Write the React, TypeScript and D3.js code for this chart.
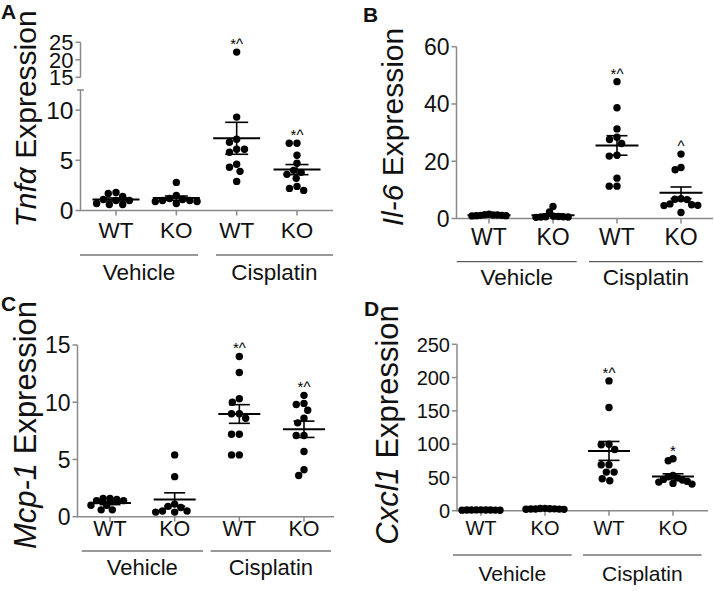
import React from "react";
import * as d3 from "d3";

// ---------- data ----------
const conditions = ["WT", "KO", "WT", "KO"];
const treatments = ["Vehicle", "Cisplatin"];

const tnfaVehicleWT = [1.4, 1.8, 1.7, 1.0, 0.7, 0.6, 0.6, 1.0, 1.1];
const tnfaVehicleKO = [1.2, 1.0, 0.9, 0.7, 0.9, 1.0, 1.5, 2.8, 1.1];
const tnfaCisplatinWT = [22.2, 9.3, 7.1, 6.8, 6.1, 5.8, 6.1, 4.6, 4.3, 3.9, 2.9];
const tnfaCisplatinKO = [6.7, 6.7, 5.5, 4.7, 4.0, 3.6, 3.2, 3.8, 2.4, 2.0, 2.2];
const tnfaMarks = ["", "", "*^", "*^"];
const tnfaTicksLow = [0, 5, 10];
const tnfaTicksHigh = [15, 20, 25];

const il6VehicleWT = [1.5, 1.2, 1.0, 1.1, 0.9, 1.0, 1.1, 1.2, 1.3];
const il6VehicleKO = [0.5, 0.6, 0.4, 4.2, 2.3, 0.5, 0.6, 0.7, 0.8];
const il6CisplatinWT = [47.8, 38.7, 31.3, 28.4, 27.6, 26.2, 22.1, 21.8, 14.1, 11.3, 11.3];
const il6CisplatinKO = [22.5, 17.0, 17.8, 6.7, 6.6, 6.9, 5.1, 4.6, 4.5, 4.8, 2.1];
const il6Marks = ["", "", "*^", "^"];
const il6Ticks = [0, 20, 40, 60];

const mcp1VehicleWT = [1.6, 1.4, 1.6, 1.5, 1.0, 1.4, 1.0, 0.6, 0.6];
const mcp1VehicleKO = [5.4, 3.5, 1.1, 0.9, 0.5, 0.4, 0.4, 0.5, 0.8];
const mcp1CisplatinWT = [14.0, 12.6, 10.3, 10.0, 9.0, 9.0, 8.6, 7.2, 7.2, 5.4, 5.4];
const mcp1CisplatinKO = [10.6, 9.9, 9.8, 9.3, 8.6, 8.2, 7.1, 7.1, 5.7, 4.1, 3.6];
const mcp1Marks = ["", "", "*^", "*^"];
const mcp1Ticks = [0, 5, 10, 15];

const cxcl1VehicleWT = [0.8, 1.2, 1.0, 0.9, 1.1, 1.0, 0.7, 1.3, 1.0];
const cxcl1VehicleKO = [2.5, 3.0, 2.0, 2.8, 2.2, 3.2, 2.6, 2.4, 3.5];
const cxcl1CisplatinWT = [195, 155, 100, 99, 92, 69, 69, 58, 58, 45, 48];
const cxcl1CisplatinKO = [78, 75, 53, 51, 49, 47, 46, 44, 43, 41, 40];
const cxcl1Marks = ["", "", "*^", "*"];
const cxcl1Ticks = [0, 50, 100, 150, 200, 250];

// ---------- style ----------
const FONT = "'Liberation Sans', Arial, Helvetica, sans-serif";
const AXIS = "#8a8a8a";
const INK = "#111";

type Seg = { domain: [number, number]; range: [number, number]; ticks: number[]; fontSize: number };

type PanelCfg = {
  letter: string;
  letterX: number;
  letterY: number;
  gene: string;
  titleX: number;
  titleY: number;
  titleSize: number;
  axisX: number;
  xEnd: number;
  firstX: number;
  lastX: number;
  segs: Seg[];
  condSize: number;
  condY: number;
  lineY: number;
  treatY: number;
  treatSize: number;
  lines: [number, number][];
  groups: number[][];
  marks: string[];
  meanW: number;
  capW: number;
  spread: number;
};

function makeY(segs: Seg[]) {
  const scales = segs.map((s) => d3.scaleLinear().domain(s.domain).range(s.range));
  return (v: number) => {
    for (let i = 0; i < segs.length; i++) {
      if (v <= segs[i].domain[1] || i === segs.length - 1) return scales[i](v);
    }
    return scales[scales.length - 1](v);
  };
}

function beeswarm(values: number[], y: (v: number) => number, D: number, maxSpread: number) {
  const pts = values.map((v) => ({ v, y: y(v), dx: 0 }));
  const order = d3.range(pts.length).sort((a, b) => pts[a].y - pts[b].y);
  const placed: { v: number; y: number; dx: number }[] = [];
  for (const i of order) {
    const p = pts[i];
    const iv: [number, number][] = [];
    for (const q of placed) {
      const dy = Math.abs(q.y - p.y);
      if (dy < D) {
        const w = Math.sqrt(D * D - dy * dy);
        iv.push([q.dx - w, q.dx + w]);
      }
    }
    const cands = [0, ...iv.flatMap(([a, b]) => [a, b])].sort(
      (a, b) => Math.abs(a) - Math.abs(b) || a - b
    );
    for (const c of cands) {
      if (iv.every(([a, b]) => c <= a + 1e-6 || c >= b - 1e-6)) {
        p.dx = c;
        break;
      }
    }
    placed.push(p);
  }
  const m = d3.max(pts, (p) => Math.abs(p.dx)) || 0;
  if (m > maxSpread) pts.forEach((p) => (p.dx = (p.dx * maxSpread) / m));
  return pts;
}

function Panel({ c }: { c: PanelCfg }) {
  const y = makeY(c.segs);
  const x = d3.scalePoint<number>().domain([0, 1, 2, 3]).range([c.firstX, c.lastX]);
  const baseY = y(0);
  const R = 3.7;
  return (
    <g>
      <text x={c.letterX} y={c.letterY} fontFamily={FONT} fontWeight="bold" fontSize={21} fill={INK}>
        {c.letter}
      </text>
      <text
        transform={`translate(${c.titleX},${c.titleY}) rotate(-90)`}
        textAnchor="middle"
        fontFamily={FONT}
        fontSize={c.titleSize}
        fill={INK}
      >
        <tspan fontStyle="italic">{c.gene}</tspan>
        <tspan> Expression</tspan>
      </text>
      {/* y axis segments */}
      {c.segs.map((s, si) => {
        const ys = d3.scaleLinear().domain(s.domain).range(s.range);
        const isLowerBroken = c.segs.length > 1 && si === 0;
        return (
          <g key={si}>
            <line x1={c.axisX} x2={c.axisX} y1={ys(s.domain[0])} y2={ys(s.domain[1])} stroke={AXIS} strokeWidth={1.5} />
            {isLowerBroken && (
              <line x1={c.axisX - 3.5} x2={c.axisX + 3.5} y1={ys(s.domain[1])} y2={ys(s.domain[1])} stroke={AXIS} strokeWidth={1.5} />
            )}
            {s.ticks.map((t) => (
              <g key={t}>
                <line x1={c.axisX - 5} x2={c.axisX} y1={ys(t)} y2={ys(t)} stroke={AXIS} strokeWidth={1.5} />
                <text
                  x={c.axisX - 7}
                  y={ys(t)}
                  dy="0.36em"
                  textAnchor="end"
                  fontFamily={FONT}
                  fontSize={s.fontSize}
                  fill={INK}
                >
                  {t}
                </text>
              </g>
            ))}
          </g>
        );
      })}
      {/* x axis */}
      <line x1={c.axisX - 0.75} x2={c.xEnd} y1={baseY} y2={baseY} stroke={AXIS} strokeWidth={1.5} />
      {conditions.map((cond, i) => (
        <g key={i}>
          <line x1={x(i)} x2={x(i)} y1={baseY} y2={baseY + 5} stroke={AXIS} strokeWidth={1.5} />
          <text x={x(i)} y={c.condY} textAnchor="middle" fontFamily={FONT} fontSize={c.condSize} fill={INK}>
            {cond}
          </text>
        </g>
      ))}
      {treatments.map((t, i) => (
        <g key={t}>
          <line x1={c.lines[i][0]} x2={c.lines[i][1]} y1={c.lineY} y2={c.lineY} stroke="#333" strokeWidth={1} />
          <text
            x={(c.lines[i][0] + c.lines[i][1]) / 2}
            y={c.treatY}
            textAnchor="middle"
            fontFamily={FONT}
            fontSize={c.treatSize}
            fill={INK}
          >
            {t}
          </text>
        </g>
      ))}
      {/* data */}
      {c.groups.map((vals, gi) => {
        const cx = x(gi) as number;
        const pts = beeswarm(vals, y, R * 2 + 0.4, c.spread);
        const m = d3.mean(vals) as number;
        const sem = (d3.deviation(vals) as number) / Math.sqrt(vals.length);
        const topY = d3.min(pts, (p) => p.y) as number;
        return (
          <g key={gi}>
            {pts.map((p, pi) => (
              <circle key={pi} cx={cx + p.dx} cy={p.y} r={R} fill="#000" />
            ))}
            <line x1={cx - c.meanW / 2} x2={cx + c.meanW / 2} y1={y(m)} y2={y(m)} stroke="#000" strokeWidth={2} />
            <line x1={cx} x2={cx} y1={y(m - sem)} y2={y(m + sem)} stroke="#000" strokeWidth={1.6} />
            <line x1={cx - c.capW / 2} x2={cx + c.capW / 2} y1={y(m + sem)} y2={y(m + sem)} stroke="#000" strokeWidth={1.6} />
            <line x1={cx - c.capW / 2} x2={cx + c.capW / 2} y1={y(m - sem)} y2={y(m - sem)} stroke="#000" strokeWidth={1.6} />
            {c.marks[gi] && (
              <text x={cx} y={topY - 3} textAnchor="middle" fontFamily={FONT} fontSize={15} fill="#000">
                {c.marks[gi]}
              </text>
            )}
          </g>
        );
      })}
    </g>
  );
}

const panels: PanelCfg[] = [
  {
    letter: "A", letterX: 1, letterY: 19, gene: "Tnfα", titleX: 36, titleY: 119, titleSize: 30,
    axisX: 80.5, xEnd: 333, firstX: 116, lastX: 297,
    segs: [
      { domain: [0, 12], range: [210.5, 90], ticks: tnfaTicksLow, fontSize: 24.5 },
      { domain: [15, 25], range: [77.3, 42.3], ticks: tnfaTicksHigh, fontSize: 22 },
    ],
    condSize: 22.5, condY: 238, lineY: 255, treatY: 280, treatSize: 22.5,
    lines: [[80, 198], [216, 333]],
    groups: [tnfaVehicleWT, tnfaVehicleKO, tnfaCisplatinWT, tnfaCisplatinKO],
    marks: tnfaMarks, meanW: 47, capW: 23, spread: 21,
  },
  {
    letter: "B", letterX: 363, letterY: 22, gene: "Il-6", titleX: 403, titleY: 127, titleSize: 30,
    axisX: 456.5, xEnd: 713, firstX: 489, lastX: 681,
    segs: [{ domain: [0, 60], range: [218.5, 46.7], ticks: il6Ticks, fontSize: 23 }],
    condSize: 23, condY: 245, lineY: 261.7, treatY: 285, treatSize: 22.5,
    lines: [[456.7, 576.7], [589, 702.7]],
    groups: [il6VehicleWT, il6VehicleKO, il6CisplatinWT, il6CisplatinKO],
    marks: il6Marks, meanW: 43, capW: 21, spread: 17,
  },
  {
    letter: "C", letterX: 1, letterY: 311, gene: "Mcp-1", titleX: 36, titleY: 425, titleSize: 31,
    axisX: 77.5, xEnd: 334, firstX: 110, lastX: 304,
    segs: [{ domain: [0, 15], range: [516.7, 345], ticks: mcp1Ticks, fontSize: 23 }],
    condSize: 21.5, condY: 536, lineY: 551, treatY: 575, treatSize: 22,
    lines: [[81.7, 203], [210.7, 331]],
    groups: [mcp1VehicleWT, mcp1VehicleKO, mcp1CisplatinWT, mcp1CisplatinKO],
    marks: mcp1Marks, meanW: 42, capW: 21, spread: 19,
  },
  {
    letter: "D", letterX: 364, letterY: 316, gene: "Cxcl1", titleX: 398, titleY: 425, titleSize: 31,
    axisX: 457, xEnd: 708, firstX: 481, lastX: 673,
    segs: [{ domain: [0, 250], range: [510.7, 344.3], ticks: cxcl1Ticks, fontSize: 20 }],
    condSize: 20, condY: 535, lineY: 555, treatY: 580.5, treatSize: 21,
    lines: [[453, 571.7], [583, 701.7]],
    groups: [cxcl1VehicleWT, cxcl1VehicleKO, cxcl1CisplatinWT, cxcl1CisplatinKO],
    marks: cxcl1Marks, meanW: 42, capW: 21, spread: 19,
  },
];

export default function App() {
  return (
    <svg
      width={714}
      height={591}
      viewBox="0 0 714 591"
      style={{ position: "absolute", left: 0, top: 0, background: "#fff" }}
    >
      <rect width={714} height={591} fill="#fff" />
      {panels.map((p) => (
        <Panel key={p.letter} c={p} />
      ))}
    </svg>
  );
}
